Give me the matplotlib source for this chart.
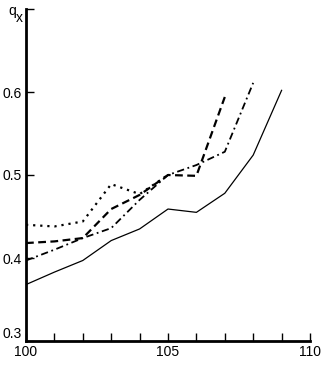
import numpy as np
import matplotlib.pyplot as plt

plt.rcParams['font.family'] = ['Liberation Sans', 'DejaVu Sans']

# data
age_solid = [100, 101, 102, 103, 104, 105, 106, 107, 108, 109]
qx_solid = [0.368, 0.383, 0.397, 0.421, 0.435, 0.459, 0.455, 0.478, 0.524, 0.602]

age_dot = [100, 101, 102, 103, 104, 105]
qx_dot = [0.440, 0.438, 0.444, 0.489, 0.477, 0.500]

age_dash = [100, 101, 102, 103, 104, 105, 106, 107]
qx_dash = [0.418, 0.420, 0.424, 0.459, 0.476, 0.500, 0.499, 0.594]

age_dashdot = [100, 101, 102, 103, 104, 105, 106, 107, 108]
qx_dashdot = [0.397, 0.410, 0.424, 0.436, 0.470, 0.500, 0.512, 0.528, 0.611]

fig = plt.figure(figsize=(3.22, 3.66), dpi=100)
ax = fig.add_axes([26 / 322, 25 / 366, 284 / 322, 332 / 366])

ax.plot(age_solid, qx_solid, color='black', lw=0.9, ls='-')
ax.plot(age_dot, qx_dot, color='black', lw=1.6, ls=(0, (1, 2.2)))
ax.plot(age_dash, qx_dash, color='black', lw=1.6, ls=(0, (3.5, 2)))
ax.plot(age_dashdot, qx_dashdot, color='black', lw=1.3, ls=(0, (4, 2, 1, 2)))

ax.set_xlim(100, 110)
ax.set_ylim(0.3, 0.7)
ax.set_xticks(np.arange(100, 111, 1))
ax.set_xticklabels(['100', '', '', '', '', '105', '', '', '', '', '110'])
ax.set_yticks([0.3, 0.4, 0.5, 0.6, 0.7])
ax.set_yticklabels(['0.3', '0.4', '0.5', '0.6', ''])

for s in ['top', 'right']:
    ax.spines[s].set_visible(False)
for s in ['left', 'bottom']:
    ax.spines[s].set_linewidth(2)
ax.tick_params(direction='in', length=6, width=1, labelsize=10)
ax.tick_params(axis='x', pad=3)
ax.tick_params(axis='y', pad=3)
ax.get_yticklabels()[0].set_verticalalignment('bottom')

# axis label "q_x" at the top left corner
fig.text(8 / 322, 1 - 15 / 366, 'q', fontsize=10, ha='left', va='baseline')
fig.text(15.5 / 322, 1 - 22 / 366, 'x', fontsize=10, ha='left', va='baseline')

fig.savefig('out.png', dpi=100)
